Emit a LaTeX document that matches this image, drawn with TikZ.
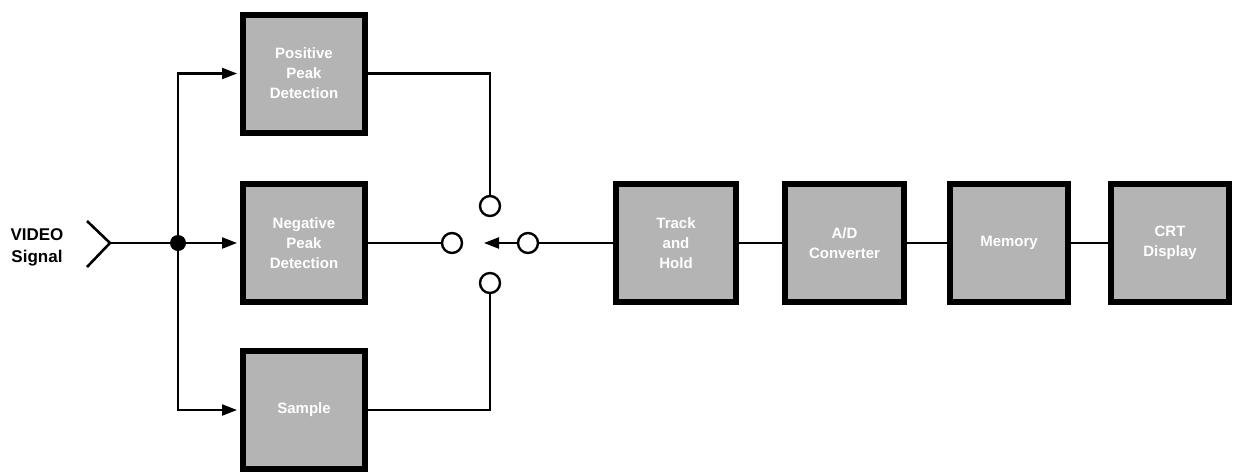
\documentclass[tikz,border=0pt]{standalone}
\usepackage{fontspec}
\setmainfont{Liberation Sans}
\usetikzlibrary{arrows.meta}
\definecolor{boxgray}{HTML}{B4B4B4}
\begin{document}
\begin{tikzpicture}[x=1pt,y=-1pt,
  blk/.style={draw=black, line width=6pt, fill=boxgray, minimum width=122pt,
    minimum height=118pt, inner sep=0pt, text=white,
    font=\bfseries\fontsize{15}{20}\selectfont, align=center},
  wire/.style={line width=2.2pt},
  arr/.style={wire, -{Triangle[length=15pt,width=11pt]}},
  sw/.style={circle, draw, line width=2.4pt, minimum size=20pt, inner sep=0pt, fill=white}]
\useasboundingbox (0,0) rectangle (1233,475);

% blocks
\node[blk] (pos) at (304,73.5) {Positive\\Peak\\Detection};
\node[blk] (neg) at (304,243) {Negative\\Peak\\Detection};
\node[blk] (smp) at (304,410) {Sample};
\node[blk, minimum width=120pt] (th) at (676,243) {Track\\and\\Hold};
\node[blk, minimum width=119pt] (ad) at (844.5,243) {A/D\\Converter};
\node[blk, minimum width=118pt] (mem) at (1009,243) {Memory};
\node[blk, minimum width=118pt] (crt) at (1170,243) {CRT\\Display};

% switch contacts
\node[sw] (c1) at (490,206) {};
\node[sw] (c2) at (452,243) {};
\node[sw] (c3) at (528,243) {};
\node[sw] (c4) at (490,283) {};
\coordinate (tip) at (484,243);

% input
\node[font=\bfseries\fontsize{17}{22}\selectfont, align=center] (lbl) at (37,247) {VIDEO\\Signal};
\coordinate (in) at (110,243);
\coordinate (ia) at (87,221);
\coordinate (ib) at (87,267);
\draw[line width=2.6pt] (ia) -- (in) -- (ib);
\coordinate (j) at (178,243);
\draw[wire] (in) -- (j);
\fill (j) circle (8pt);

\draw[arr, shorten >=3pt] (j) -- (neg.west);
\draw[arr, shorten >=3pt] (j) |- (pos.west);
\draw[arr, shorten >=3pt] (j) |- (smp.west);

% outputs to switch
\draw[wire] (pos.east) -| (c1);
\draw[wire] (smp.east) -| (c4);
\draw[wire] (neg.east) -- (c2);
\draw[arr] (c3) -- (tip);

% chain
\draw[wire] (c3) -- (th);
\draw[wire] (th) -- (ad);
\draw[wire] (ad) -- (mem);
\draw[wire] (mem) -- (crt);
\end{tikzpicture}
\end{document}
